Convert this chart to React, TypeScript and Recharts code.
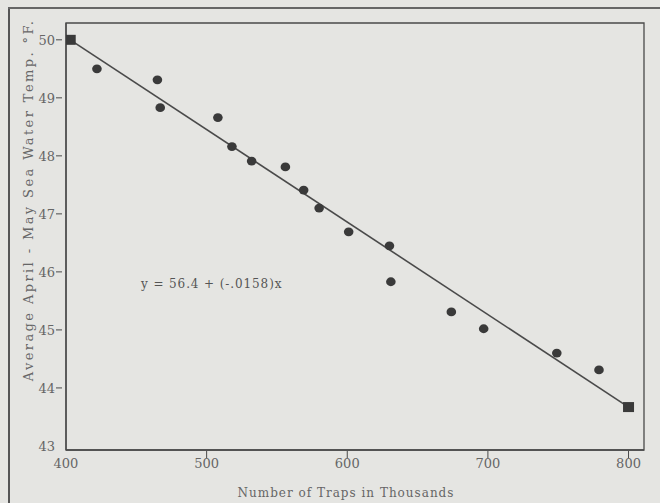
import React from 'react';
import {
    ComposedChart,
    XAxis,
    YAxis,
    Scatter,
    Line,
    ReferenceArea,
} from 'recharts';

// observed seasons: traps (thousands) vs average Apr-May sea water temp
const traps = [422, 465, 467, 508, 518, 532, 556, 569, 580, 601, 630, 631, 674, 697, 749, 779];
const temps = [49.5, 49.31, 48.83, 48.66, 48.16, 47.91, 47.81, 47.41, 47.1, 46.69, 46.45, 45.83, 45.31, 45.02, 44.6, 44.31];

// fitted line end points (squares)
const fitTraps = [403, 800];
const fitTemps = [50.0, 43.67];

const xTicks = [400, 500, 600, 700, 800];
const yTicks = [43, 44, 45, 46, 47, 48, 49, 50];

const points = traps.map((x, i) => ({ x, y: temps[i] }));
const fit = fitTraps.map((x, i) => ({ x, y: fitTemps[i] }));

const INK = '#4a4a4a';
const LABEL = '#666';
const BG = '#e5e5e2';

const Dot = (props: any) => {
    const { cx, cy } = props;
    return <ellipse cx={cx} cy={cy} rx={4.8} ry={4.4} fill="#3a3a3a" />;
};

const Square = (props: any) => {
    const { cx, cy } = props;
    return <rect x={cx - 5.5} y={cy - 5} width={11} height={10} fill="#3a3a3a" />;
};

const XTick = (props: any) => {
    const { x, y, payload } = props;
    return (
        <g>
            {payload.value !== 400 && (
                <line x1={x} y1={y - 7} x2={x} y2={y} stroke={INK} strokeWidth={1} />
            )}
            <text
                x={x}
                y={y + 10}
                textAnchor="middle"
                fill={LABEL}
                fontSize={13}
                fontFamily="'DejaVu Serif', serif"
            >
                {payload.value}
            </text>
        </g>
    );
};

const YTick = (props: any) => {
    const { x, y, payload } = props;
    return (
        <g>
            {payload.value !== 43 && (
                <line x1={x - 2} x2={x + 4} y1={y} y2={y} stroke={INK} strokeWidth={1} />
            )}
            <text
                x={x - 3}
                y={y + 5}
                textAnchor="end"
                fill={LABEL}
                fontSize={13}
                fontFamily="'DejaVu Serif', serif"
            >
                {payload.value}
            </text>
        </g>
    );
};

export default function App() {
    return (
        <div
            style={{
                position: 'fixed',
                top: 0,
                left: 0,
                width: 660,
                height: 503,
                background: BG,
                overflow: 'hidden',
            }}
        >
            {/* outer page frame */}
            <div style={{ position: 'absolute', left: 8, top: 7, width: 2, height: 500, background: '#555' }} />
            <div style={{ position: 'absolute', left: 8, top: 7, width: 660, height: 2, background: '#666' }} />

            <ComposedChart
                width={660}
                height={503}
                margin={{ top: 23, right: 16, bottom: 28, left: 0 }}
                style={{ position: 'absolute', left: 0, top: 0 }}
            >
                <XAxis
                    type="number"
                    dataKey="x"
                    domain={[400, 811]}
                    ticks={xTicks}
                    tick={<XTick />}
                    tickLine={false}
                    axisLine={{ stroke: INK, strokeWidth: 1.3 }}
                    height={25}
                    allowDataOverflow
                />
                <YAxis
                    type="number"
                    dataKey="y"
                    domain={[42.93, 50.29]}
                    ticks={yTicks}
                    tick={<YTick />}
                    tickLine={false}
                    axisLine={{ stroke: INK, strokeWidth: 1.3 }}
                    width={66}
                    allowDataOverflow
                />
                <ReferenceArea
                    x1={400}
                    x2={811}
                    y1={42.93}
                    y2={50.29}
                    fill="none"
                    stroke={INK}
                    strokeWidth={1.3}
                    ifOverflow="visible"
                />
                <Line
                    data={fit}
                    dataKey="y"
                    type="linear"
                    stroke={INK}
                    strokeWidth={1.6}
                    dot={false}
                    isAnimationActive={false}
                />
                <Scatter data={fit} shape={<Square />} isAnimationActive={false} />
                <Scatter data={points} shape={<Dot />} isAnimationActive={false} />
            </ComposedChart>

            <div
                style={{
                    position: 'absolute',
                    left: 141,
                    top: 277,
                    fontFamily: "'DejaVu Serif', serif",
                    fontSize: 12,
                    letterSpacing: 0.9,
                    color: '#555',
                    whiteSpace: 'nowrap',
                }}
            >
                y = 56.4 + (-.0158)x
            </div>

            <div
                style={{
                    position: 'absolute',
                    left: 346,
                    top: 493,
                    transform: 'translate(-50%, -50%)',
                    fontFamily: "'DejaVu Serif', serif",
                    fontSize: 12,
                    letterSpacing: 1,
                    color: LABEL,
                    whiteSpace: 'nowrap',
                }}
            >
                Number of Traps in Thousands
            </div>

            <div
                style={{
                    position: 'absolute',
                    left: 28,
                    top: 200,
                    transform: 'translate(-50%, -50%) rotate(-90deg)',
                    fontFamily: "'DejaVu Serif', serif",
                    fontSize: 13,
                    letterSpacing: 2.4,
                    color: LABEL,
                    whiteSpace: 'nowrap',
                }}
            >
                Average April - May Sea Water Temp. °F.
            </div>
        </div>
    );
}
